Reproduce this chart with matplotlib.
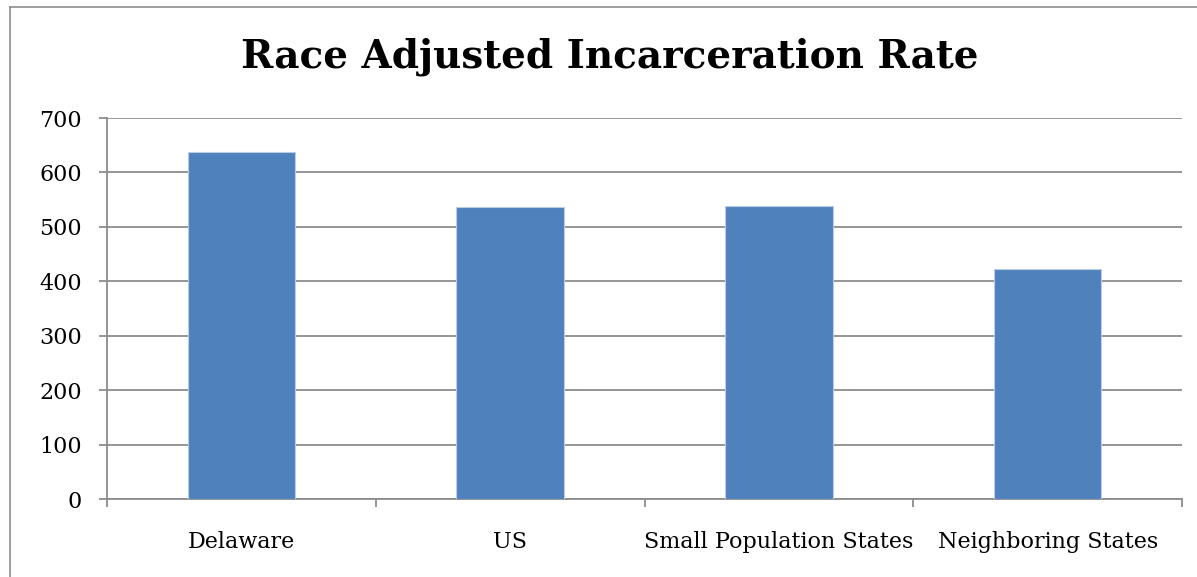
import matplotlib.pyplot as plt
from matplotlib.lines import Line2D

# data
categories = ['Delaware', 'US', 'Small Population States', 'Neighboring States']
rates = [637, 537, 539, 423]
yticks = [0, 100, 200, 300, 400, 500, 600, 700]

W, H = 1197, 577
fig = plt.figure(figsize=(W / 100, H / 100), dpi=100)
plt.rcParams['font.family'] = ['DejaVu Serif']

# axes placed in pixel coords: x 107..1182, y 118..499
ax = fig.add_axes([107 / W, 1 - 499 / H, (1182 - 107) / W, (499 - 118) / H])

x = list(range(len(categories)))
ax.bar(x, rates, width=0.4, color='#4f81bd', edgecolor='#b9cde5', linewidth=0.8, zorder=3)

ax.set_xlim(-0.5, len(categories) - 0.5)
ax.set_ylim(0, 700)
ax.set_yticks(yticks)
ax.set_yticklabels([str(v) for v in yticks], fontsize=16)
ax.yaxis.grid(True, color='#8c8c8c', linewidth=1.3, zorder=0)
ax.set_axisbelow(True)

ax.set_xticks([i - 0.5 for i in range(len(categories) + 1)])
ax.set_xticklabels([])
ax.set_xticks(x, minor=True)
ax.set_xticklabels(categories, minor=True, fontsize=16)
ax.tick_params(axis='x', which='minor', length=0, pad=23)
ax.tick_params(axis='x', which='major', length=6, color='#8c8c8c', width=1.3)
ax.tick_params(axis='y', length=6, color='#8c8c8c', width=1.3, pad=12)

for s in ['top', 'right']:
    ax.spines[s].set_visible(False)
for s in ['left', 'bottom']:
    ax.spines[s].set_color('#8c8c8c')
    ax.spines[s].set_linewidth(1.3)

fig.text(610 / W, 1 - 68 / H, 'Race Adjusted Incarceration Rate', ha='center', va='baseline',
         fontsize=28, fontweight='bold')

# outer chart border
fig.add_artist(Line2D([10 / W, 10 / W], [0, 1 - 7 / H], color='#8c8c8c', linewidth=1.2,
                      transform=fig.transFigure))
fig.add_artist(Line2D([10 / W, 1], [1 - 7 / H, 1 - 7 / H], color='#8c8c8c', linewidth=1.2,
                      transform=fig.transFigure))

fig.savefig('out.png', dpi=100)
